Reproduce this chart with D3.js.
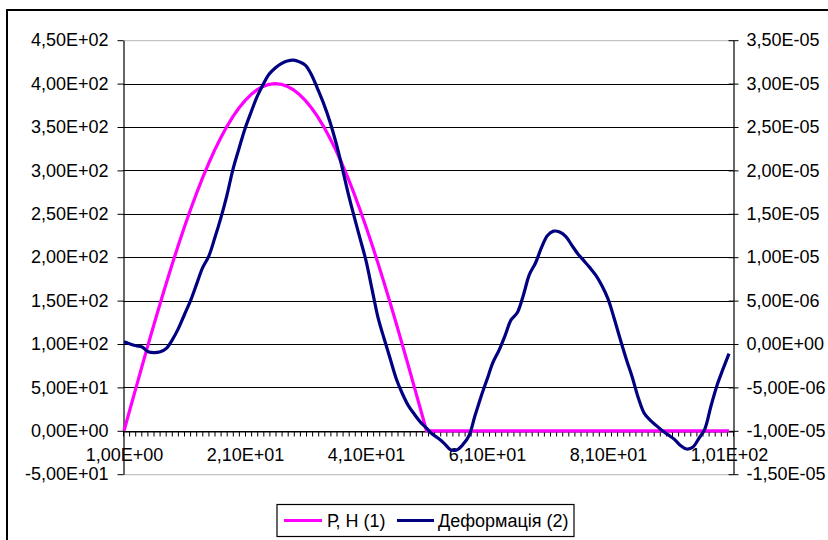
<!DOCTYPE html>
<html>
<head>
<meta charset="utf-8">
<script src="https://cdn.jsdelivr.net/npm/d3@7"></script>
<style>
  html, body { margin: 0; padding: 0; background: #fff; }
  svg { display: block; font-family: "Liberation Sans", Arial, sans-serif; }
</style>
</head>
<body>
<svg id="chart" width="828" height="540"></svg>
<script>
// Step numbers along the horizontal axis
const categories = d3.range(1, 102);
const xLabelValues = [1, 21, 41, 61, 81, 101];

// Series 1: load P, N
const force = [
  0, 25.1, 50.1, 75.0, 99.5, 123.6, 147.2, 170.3, 192.7, 214.3,
  235.1, 255.0, 273.8, 291.6, 308.2, 323.6, 337.7, 350.5, 361.9, 371.9,
  380.4, 387.4, 392.9, 396.8, 399.2, 400.0, 399.2, 396.8, 392.9, 387.4,
  380.4, 371.9, 361.9, 350.5, 337.7, 323.6, 308.2, 291.6, 273.8, 255.0,
  235.1, 214.3, 192.7, 170.3, 147.2, 123.6, 99.5, 75.0, 50.1, 25.1,
  0, 0, 0, 0, 0, 0, 0, 0, 0, 0,
  0, 0, 0, 0, 0, 0, 0, 0, 0, 0,
  0, 0, 0, 0, 0, 0, 0, 0, 0, 0,
  0, 0, 0, 0, 0, 0, 0, 0, 0, 0,
  0, 0, 0, 0, 0, 0, 0, 0, 0, 0,
  0
];

// Series 2: deformation (secondary axis)
const deformation = [
  0.25e-6, 0.0e-6, -0.2e-6, -0.35e-6, -0.9e-6, -1.0e-6, -0.9e-6, -0.5e-6, 0.5e-6, 1.8e-6,
  3.4e-6, 5.0e-6, 6.9e-6, 8.8e-6, 10.1e-6, 12.2e-6, 14.5e-6, 17.1e-6, 20.1e-6, 22.5e-6,
  24.8e-6, 26.7e-6, 28.5e-6, 29.9e-6, 31.1e-6, 31.8e-6, 32.3e-6, 32.6e-6, 32.7e-6, 32.5e-6,
  32.1e-6, 31.0e-6, 29.4e-6, 27.7e-6, 25.7e-6, 23.3e-6, 20.5e-6, 17.5e-6, 14.8e-6, 12.2e-6,
  9.6e-6, 6.3e-6, 3.0e-6, 0.6e-6, -1.7e-6, -4.0e-6, -5.7e-6, -7.1e-6, -8.1e-6, -9.0e-6,
  -9.7e-6, -10.4e-6, -10.9e-6, -11.5e-6, -12.2e-6, -12.2e-6, -11.6e-6, -10.6e-6, -8.3e-6, -6.1e-6,
  -4.1e-6, -2.1e-6, -0.7e-6, 1.0e-6, 2.8e-6, 3.6e-6, 5.6e-6, 8.0e-6, 9.3e-6, 11.1e-6,
  12.5e-6, 13.0e-6, 12.9e-6, 12.4e-6, 11.4e-6, 10.4e-6, 9.6e-6, 8.8e-6, 7.9e-6, 6.7e-6,
  5.2e-6, 3.0e-6, 0.6e-6, -1.7e-6, -3.8e-6, -6.2e-6, -8.0e-6, -8.8e-6, -9.4e-6, -10.0e-6,
  -10.5e-6, -11.0e-6, -11.7e-6, -12.1e-6, -11.9e-6, -10.9e-6, -9.8e-6, -7.2e-6, -4.8e-6, -2.9e-6,
  -1.1e-6
];

const leftTicks = [-50, 0, 50, 100, 150, 200, 250, 300, 350, 400, 450];
const rightTicks = [-1.5e-5, -1.0e-5, -5.0e-6, 0, 5.0e-6, 1.0e-5, 1.5e-5, 2.0e-5, 2.5e-5, 3.0e-5, 3.5e-5];

const seriesNames = ["Р, Н (1)", "Деформація (2)"];
const seriesColors = ["#ff00ff", "#000080"];

// Scientific label in the "0,00E+00" style
function sci(v) {
  if (v === 0) return "0,00E+00";
  let e = Math.floor(Math.log10(Math.abs(v)) + 1e-9);
  let m = v / Math.pow(10, e);
  if (Math.abs(m) >= 9.995) { m /= 10; e += 1; }
  const ee = String(Math.abs(e)).padStart(2, "0");
  return m.toFixed(2).replace(".", ",") + "E" + (e < 0 ? "-" : "+") + ee;
}

const svg = d3.select("#chart");
const plot = { left: 123, right: 733, top: 40.2, bottom: 474.2 };

const x = d3.scalePoint().domain(categories).range([124, 729]);
const yL = d3.scaleLinear().domain([-50, 450]).range([plot.bottom, plot.top]);
const yR = d3.scaleLinear().domain([-1.5e-5, 3.5e-5]).range([plot.bottom, plot.top]);
const tickScale = d3.scaleLinear().domain([0, 100]).range([plot.left, plot.right]);

// Outer chart frame
svg.append("rect")
  .attr("x", 7).attr("y", 10)
  .attr("width", 840).attr("height", 560)
  .attr("fill", "none").attr("stroke", "#000").attr("stroke-width", 2);

// Plot area border (top and bottom edges)
svg.append("g").selectAll("line")
  .data([450, -50]).join("line")
  .attr("x1", plot.left).attr("x2", plot.right)
  .attr("y1", d => yL(d) + 0.5).attr("y2", d => yL(d) + 0.5)
  .attr("stroke", "#b4b4b4").attr("stroke-width", 1);

// Horizontal gridlines
svg.append("g").selectAll("line")
  .data(leftTicks.filter(d => d > -50 && d < 450)).join("line")
  .attr("x1", plot.left).attr("x2", plot.right)
  .attr("y1", d => Math.round(yL(d)) + 0.5).attr("y2", d => Math.round(yL(d)) + 0.5)
  .attr("stroke", "#000").attr("stroke-width", 1);

// Left axis
const gL = svg.append("g")
  .attr("transform", `translate(${plot.left + 0.5},0)`)
  .call(d3.axisLeft(yL).tickValues(leftTicks).tickFormat(sci).tickSizeInner(6).tickSizeOuter(0).tickPadding(9));
gL.select(".domain").attr("stroke", "#000").attr("stroke-width", 1.2);
gL.selectAll(".tick line").attr("stroke", "#000");
gL.selectAll(".tick text").attr("font-size", 18).attr("fill", "#000")
  .attr("font-family", "'Liberation Sans', Arial, sans-serif");

// Right axis (ticks cross the axis)
const gR = svg.append("g")
  .attr("transform", `translate(${plot.right + 0.5},0)`)
  .call(d3.axisRight(yR).tickValues(rightTicks).tickFormat(sci).tickSizeInner(5).tickSizeOuter(0).tickPadding(8));
gR.select(".domain").attr("stroke", "#000").attr("stroke-width", 1.2);
gR.selectAll(".tick line").attr("x1", -5).attr("stroke", "#000");
gR.selectAll(".tick text").attr("font-size", 18).attr("fill", "#000")
  .attr("font-family", "'Liberation Sans', Arial, sans-serif");

// Category axis at zero with minor tick marks
const y0 = Math.round(yL(0)) + 0.5;
const gT = svg.append("g")
  .attr("transform", `translate(0,${y0})`)
  .call(d3.axisBottom(tickScale).tickValues(d3.range(0, 101)).tickFormat("").tickSizeInner(5).tickSizeOuter(0));
gT.select(".domain").attr("stroke", "#000").attr("stroke-width", 1.2);
gT.selectAll(".tick line").attr("stroke", "#000");

const gX = svg.append("g")
  .attr("transform", `translate(0,${y0})`)
  .call(d3.axisBottom(x).tickValues(xLabelValues).tickFormat(sci).tickSize(0).tickPadding(17));
gX.select(".domain").remove();
gX.selectAll(".tick text").attr("font-size", 18).attr("fill", "#000")
  .attr("font-family", "'Liberation Sans', Arial, sans-serif");

// Series lines
const forceLine = d3.line()
  .x((d, i) => x(categories[i]))
  .y(d => yL(d));
const defLine = d3.line()
  .x((d, i) => x(categories[i]))
  .y(d => yR(d))
  .curve(d3.curveCatmullRom.alpha(0.5));

svg.append("path").datum(force)
  .attr("d", forceLine)
  .attr("fill", "none").attr("stroke", seriesColors[0])
  .attr("stroke-width", 3.2).attr("stroke-linejoin", "round");

svg.append("path").datum(deformation)
  .attr("d", defLine)
  .attr("fill", "none").attr("stroke", seriesColors[1])
  .attr("stroke-width", 3.2).attr("stroke-linejoin", "round");

// Legend
const legend = svg.append("g");
legend.append("rect")
  .attr("x", 277).attr("y", 504.5).attr("width", 297).attr("height", 32)
  .attr("fill", "#fff").attr("stroke", "#000").attr("stroke-width", 1.2);
const legendItems = [
  { name: seriesNames[0], color: seriesColors[0], x0: 284, x1: 322, tx: 327 },
  { name: seriesNames[1], color: seriesColors[1], x0: 397, x1: 434, tx: 438 }
];
legendItems.forEach(it => {
  legend.append("line")
    .attr("x1", it.x0).attr("x2", it.x1).attr("y1", 520.5).attr("y2", 520.5)
    .attr("stroke", it.color).attr("stroke-width", 3.2);
  legend.append("text")
    .attr("x", it.tx).attr("y", 527)
    .attr("font-size", 18).attr("fill", "#000")
    .text(it.name);
});
</script>
</body>
</html>
